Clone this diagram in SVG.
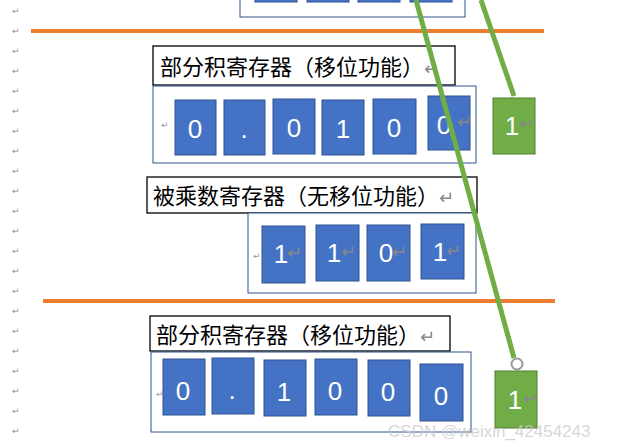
<svg xmlns="http://www.w3.org/2000/svg" width="635" height="447" viewBox="0 0 635 447">
<style>
.c{fill:#4472c4;stroke:#2f528f;stroke-width:1}
.g{fill:#70ad47;stroke:#507e32;stroke-width:1}
.box{fill:#fff;stroke:#2f528f;stroke-width:1}
.tb{fill:#fff;stroke:#000;stroke-width:1.3}
.t{font-family:"Noto Sans CJK SC",sans-serif;font-size:22px;fill:#000}
.n{font-family:"Liberation Sans",sans-serif;font-size:26px;fill:#fff;text-anchor:middle}
.r{font-family:"DejaVu Sans",sans-serif;font-size:18px;fill:#888}
.m{font-family:"DejaVu Sans",sans-serif;font-size:9px;fill:#999}
.or{stroke:#ed7d31;stroke-width:4}
.gl{stroke:#70ad47;stroke-width:5;fill:none}
</style>
<rect width="635" height="447" fill="#fff"/>
<g id="margin">
<text class="m" x="12" y="14">↵</text><text class="m" x="12" y="34">↵</text><text class="m" x="12" y="54">↵</text><text class="m" x="12" y="74">↵</text><text class="m" x="12" y="94">↵</text><text class="m" x="12" y="114">↵</text><text class="m" x="12" y="134">↵</text><text class="m" x="12" y="154">↵</text><text class="m" x="12" y="174">↵</text><text class="m" x="12" y="194">↵</text><text class="m" x="12" y="214">↵</text><text class="m" x="12" y="234">↵</text><text class="m" x="12" y="254">↵</text><text class="m" x="12" y="274">↵</text><text class="m" x="12" y="294">↵</text><text class="m" x="12" y="314">↵</text><text class="m" x="12" y="334">↵</text><text class="m" x="12" y="354">↵</text><text class="m" x="12" y="374">↵</text><text class="m" x="12" y="394">↵</text><text class="m" x="12" y="414">↵</text><text class="m" x="12" y="434">↵</text>
</g>
<g id="top">
<rect class="box" x="240" y="-5" width="225" height="22"/>
<rect class="c" x="255" y="-5" width="42" height="7"/><rect class="c" x="307" y="-5" width="42" height="7"/><rect class="c" x="358" y="-5" width="42" height="7"/><rect class="c" x="410" y="-5" width="42" height="7"/>
</g>
<line class="or" x1="31" y1="31" x2="544" y2="31"/>
<line class="or" x1="43" y1="301" x2="555" y2="301"/>
<g id="reg1">
<rect class="tb" x="153" y="46" width="302" height="39"/>
<text class="t" x="160" y="75">部分积寄存器（移位功能）<tspan class="r">↵</tspan></text>
<rect class="box" x="153" y="86" width="323" height="77"/>
<text class="m" x="161" y="128">↵</text>
<rect class="c" x="175" y="100" width="41" height="55"/><text class="n" x="195" y="138">0</text>
<rect class="c" x="224" y="100" width="41" height="55"/><text class="n" x="244" y="138">.</text>
<rect class="c" x="273" y="99" width="42" height="55"/><text class="n" x="294" y="137">0</text>
<rect class="c" x="322" y="100" width="42" height="55"/><text class="n" x="343" y="138">1</text>
<rect class="c" x="373" y="99" width="43" height="55"/><text class="n" x="394" y="137">0</text>
<rect class="c" x="428" y="96" width="42" height="54"/><text class="n" x="444" y="134">0</text><text class="r" x="457" y="128">↵</text>
</g>
<g id="q1">
<rect class="g" x="493" y="98" width="42" height="56"/><text class="n" x="512" y="135">1</text><text class="r" x="519" y="130">↵</text>
</g>
<g id="reg2">
<rect class="tb" x="147" y="177" width="330" height="36"/>
<text class="t" x="153" y="204">被乘数寄存器（无移位功能）<tspan class="r">↵</tspan></text>
<rect class="box" x="248" y="213" width="228" height="80"/>
<text class="m" x="253" y="259">↵</text>
<rect class="c" x="262" y="226" width="43" height="57"/><text class="n" x="281" y="263">1</text><text class="r" x="287" y="259">↵</text>
<rect class="c" x="316" y="225" width="43" height="56"/><text class="n" x="334" y="262">1</text><text class="r" x="341" y="258">↵</text>
<rect class="c" x="367" y="225" width="43" height="56"/><text class="n" x="386" y="262">0</text><text class="r" x="392" y="258">↵</text>
<rect class="c" x="421" y="224" width="43" height="55"/><text class="n" x="440" y="261">1</text><text class="r" x="446" y="257">↵</text>
</g>
<g id="reg3">
<rect class="tb" x="150" y="316" width="300" height="35"/>
<text class="t" x="156" y="343">部分积寄存器（移位功能）<tspan class="r">↵</tspan></text>
<rect class="box" x="151" y="352" width="320" height="80"/>
<text class="m" x="156" y="397">↵</text>
<rect class="c" x="163" y="359" width="42" height="56"/><text class="n" x="183" y="400">0</text>
<rect class="c" x="212" y="358" width="42" height="56"/><text class="n" x="232" y="399">.</text>
<rect class="c" x="264" y="360" width="42" height="56"/><text class="n" x="284" y="401">1</text>
<rect class="c" x="315" y="359" width="42" height="56"/><text class="n" x="335" y="400">0</text>
<rect class="c" x="368" y="360" width="42" height="56"/><text class="n" x="388" y="401">0</text>
<rect class="c" x="420" y="364" width="43" height="57"/><text class="n" x="441" y="405">0</text>
</g>
<g id="q2">
<rect class="g" x="495" y="371" width="42" height="57"/><text class="n" x="515" y="409">1</text><text class="r" x="523" y="405">↵</text>
</g>
<g id="connectors">
<line class="gl" x1="416" y1="0" x2="514" y2="358"/>
<line class="gl" x1="481" y1="0" x2="514" y2="96"/>
<circle cx="517" cy="364" r="5.5" fill="#fff" stroke="#999" stroke-width="2"/>
</g>
<text x="388" y="437" font-family="Liberation Sans,sans-serif" font-size="17" fill="#ccc" fill-opacity="0.8">CSDN @weixin_42454243</text>
</svg>
